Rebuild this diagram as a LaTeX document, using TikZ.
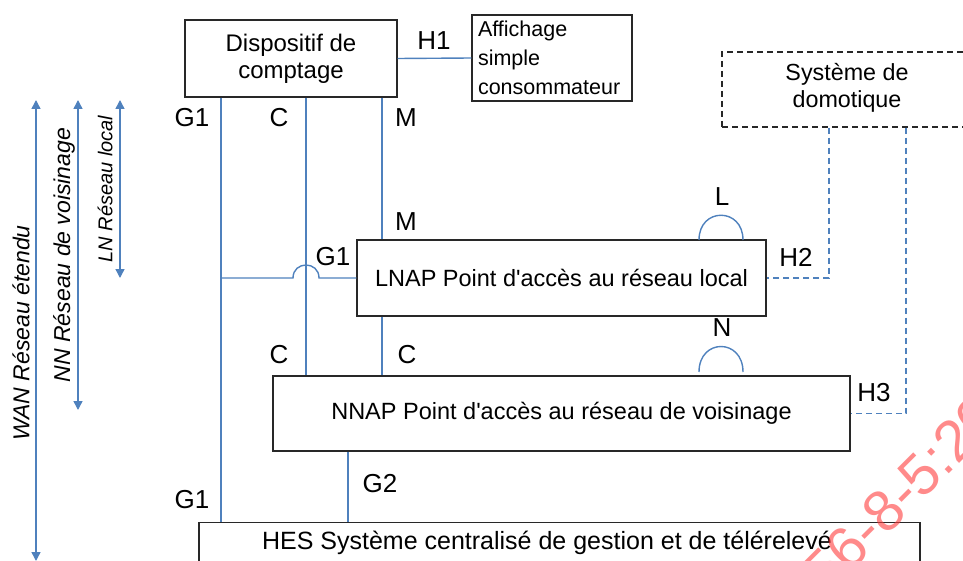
\documentclass[tikz,border=0pt]{standalone}
\usepackage{fontspec}
\setmainfont{Liberation Sans}
\usetikzlibrary{arrows.meta}
\definecolor{linkblue}{RGB}{79,129,189}
\definecolor{framegray}{RGB}{40,40,40}
\definecolor{stampred}{RGB}{255,60,60}
\newcommand{\apos}{\textquotesingle}
\tikzset{
  box/.style={draw=framegray, line width=1.3pt, inner sep=0pt, align=center,
    font=\fontsize{23.5}{27}\selectfont},
  dashbox/.style={box, dash pattern=on 6pt off 4pt},
  link/.style={draw=linkblue, line width=1.4pt},
  dlink/.style={link, dash pattern=on 6pt off 4pt},
  tag/.style={font=\fontsize{26}{26}\selectfont, inner sep=0pt},
  span/.style={link, {Triangle[length=9pt,width=9pt]}-{Triangle[length=9pt,width=9pt]}},
  spantext/.style={font=\fontsize{23}{23}\selectfont\itshape, rotate=90, inner sep=0pt}
}
\begin{document}
\begin{tikzpicture}[x=1pt,y=-1pt]
\useasboundingbox (0,0) rectangle (963,561);
\begin{scope}
\clip (0,0) rectangle (963,561);

% equipment boxes
\node[box, minimum width=212pt, minimum height=77pt, font=\fontsize{24}{27}\selectfont] (disp) at (291,58.5) {Dispositif de\\comptage};
\node[box, minimum width=160pt, minimum height=86pt, align=left, text width=148pt,
  font=\fontsize{21.5}{29}\selectfont] (aff) at (552,58) {Affichage\\simple\\consommateur};
\node[dashbox, minimum width=253pt, minimum height=75pt] (domo) at (848.5,89.5) {};
\node[font=\fontsize{23.3}{27}\selectfont, align=center, inner sep=0pt] (domotxt) at (847,88) {Syst\`eme de\\domotique};
\node[box, minimum width=409pt, minimum height=76pt] (lnap) at (561.5,278) {LNAP Point d\apos acc\`es au r\'eseau local};
\node[box, minimum width=577pt, minimum height=75pt] (nnap) at (561.5,413.5) {NNAP Point d\apos acc\`es au r\'eseau de voisinage};
\node[box, minimum width=721pt, minimum height=70pt, anchor=north] (hes) at (559.5,522) {};
\node[font=\fontsize{25}{25}\selectfont, inner sep=0pt] (hestxt) at (547,543) {HES Syst\`eme centralis\'e de gestion et de t\'el\'erelev\'e};

% interfaces between the boxes
\draw[link] (disp.east) -- (aff.west);
\draw[link] (disp.south -| 221,0) -- (hes.north -| 221,0);
\draw[link] (disp.south -| 306,0) -- (nnap.north -| 306,0);
\draw[link] (disp.south -| 382,0) -- (lnap.north -| 382,0);
\draw[link] (lnap.south -| 382,0) -- (nnap.north -| 382,0);
\draw[link] (nnap.south -| 348,0) -- (hes.north -| 348,0);
\coordinate (g1start) at (221,278);
\draw[link] (g1start) -- (293,278) .. controls (293,260.7) and (319,260.7) .. (319,278) -- (lnap.west);
\draw[dlink] (domo.south -| 829,0) |- (lnap.east);
\draw[dlink] (domo.south -| 906,0) |- (nnap.east);

% L and N interface symbols
\coordinate (larc) at (699,240);  \coordinate (larce) at (743,240);
\coordinate (narc) at (699,372);  \coordinate (narce) at (743,372);
\draw[link] (larc) .. controls ([yshift=33pt]larc) and ([yshift=33pt]larce) .. (larce);
\draw[link] (narc) .. controls ([yshift=34pt]narc) and ([yshift=34pt]narce) .. (narce);

% interface names
\node[tag] (th1) at (434,41) {H1};
\node[tag] (tg1a) at (192,118) {G1};
\node[tag] (tca) at (279,118) {C};
\node[tag] (tma) at (406,118) {M};
\node[tag] (tmb) at (406,222) {M};
\node[tag] (tl) at (722,197) {L};
\node[tag] (tg1b) at (333,257) {G1};
\node[tag] (th2) at (796,257) {H2};
\node[tag] (tn) at (722,328) {N};
\node[tag] (tcb) at (279,355) {C};
\node[tag] (tcc) at (407,355) {C};
\node[tag] (th3) at (874,393) {H3};
\node[tag] (tg2) at (380,484) {G2};
\node[tag] (tg1c) at (192,500) {G1};

% network extents
\coordinate (wanT) at (36,100);  \coordinate (wanB) at (36,561);
\coordinate (nnT) at (78,100);   \coordinate (nnB) at (78,410);
\coordinate (lnT) at (120,100);  \coordinate (lnB) at (120,278);
\draw[span] (wanT) -- (wanB);
\draw[span] (nnT) -- (nnB);
\draw[span] (lnT) -- (lnB);
\node[spantext] (wan) at (21,333) {WAN R\'eseau \'etendu};
\node[spantext] (nn) at (64,255) {NN R\'eseau de voisinage};
\node[spantext, font=\fontsize{20}{20}\selectfont\itshape] (ln) at (105,189) {LN R\'eseau local};

% stamp
\node[text=stampred, opacity=0.6, font=\fontsize{58}{58}\selectfont, rotate=45,
  anchor=base west, inner sep=0pt] (stamp) at (827,596) {56-8-5:20};
\end{scope}
\end{tikzpicture}
\end{document}
